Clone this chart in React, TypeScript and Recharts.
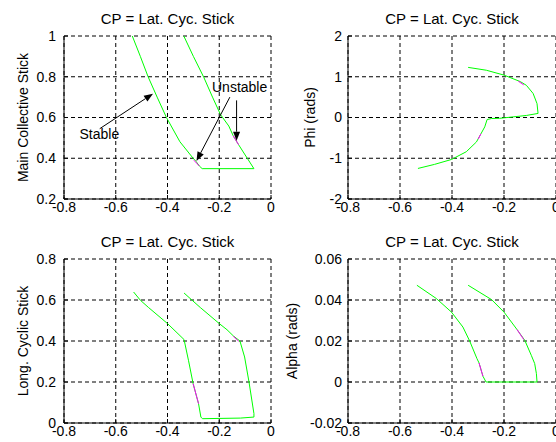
import React from "react";
import {
  LineChart,
  Line,
  XAxis,
  YAxis,
  CartesianGrid,
  ReferenceLine,
  ReferenceDot,
} from "recharts";

type Pt = { x: number; y: number };

const FONT = "'Liberation Sans', Arial, Helvetica, sans-serif";
const TITLE = "CP = Lat. Cyc. Stick";
const xTicks = [-0.8, -0.6, -0.4, -0.2, 0];

// Main collective stick vs lat. cyclic
const collTicks = [0.2, 0.4, 0.6, 0.8, 1];
const collPath: Pt[] = [
  { x: -0.536, y: 1.0 },
  { x: -0.505, y: 0.9 },
  { x: -0.475, y: 0.8 },
  { x: -0.44, y: 0.7 },
  { x: -0.404, y: 0.6 },
  { x: -0.352, y: 0.481 },
  { x: -0.301, y: 0.4 },
  { x: -0.29, y: 0.385 },
  { x: -0.277, y: 0.362 },
  { x: -0.266, y: 0.349 },
  { x: -0.066, y: 0.349 },
  { x: -0.125, y: 0.466 },
  { x: -0.146, y: 0.51 },
  { x: -0.163, y: 0.558 },
  { x: -0.195, y: 0.614 },
  { x: -0.226, y: 0.7 },
  { x: -0.26, y: 0.798 },
  { x: -0.3, y: 0.9 },
  { x: -0.337, y: 1.0 },
];
const collUnstableA: Pt[] = [
  { x: -0.298, y: 0.39 },
  { x: -0.277, y: 0.362 },
];
const collUnstableB: Pt[] = [
  { x: -0.146, y: 0.51 },
  { x: -0.125, y: 0.466 },
];
const stableArrow: Pt[] = [
  { x: -0.662, y: 0.545 },
  { x: -0.456, y: 0.717 },
];
const unstableArrowA: Pt[] = [
  { x: -0.159, y: 0.7 },
  { x: -0.288, y: 0.387 },
];
const unstableArrowB: Pt[] = [
  { x: -0.133, y: 0.684 },
  { x: -0.133, y: 0.486 },
];
const stableText: Pt = { x: -0.74, y: 0.496 };
const unstableText: Pt = { x: -0.228, y: 0.723 };

// Phi
const phiTicks = [-2, -1, 0, 1, 2];
const phiPath: Pt[] = [
  { x: -0.531, y: -1.25 },
  { x: -0.467, y: -1.15 },
  { x: -0.402, y: -1.03 },
  { x: -0.345, y: -0.84 },
  { x: -0.306, y: -0.6 },
  { x: -0.293, y: -0.45 },
  { x: -0.274, y: -0.23 },
  { x: -0.265, y: -0.05 },
  { x: -0.248, y: -0.025 },
  { x: -0.217, y: -0.02 },
  { x: -0.165, y: 0.015 },
  { x: -0.114, y: 0.05 },
  { x: -0.069, y: 0.1 },
  { x: -0.073, y: 0.34 },
  { x: -0.088, y: 0.59 },
  { x: -0.114, y: 0.79 },
  { x: -0.137, y: 0.88 },
  { x: -0.2, y: 1.04 },
  { x: -0.268, y: 1.16 },
  { x: -0.338, y: 1.23 },
];
const phiUnstableA: Pt[] = [
  { x: -0.299, y: -0.53 },
  { x: -0.289, y: -0.4 },
];
const phiUnstableB: Pt[] = [
  { x: -0.145, y: 0.89 },
  { x: -0.124, y: 0.8 },
];

// Long. cyclic stick
const longTicks = [0, 0.2, 0.4, 0.6, 0.8];
const longPath: Pt[] = [
  { x: -0.531, y: 0.639 },
  { x: -0.505, y: 0.599 },
  { x: -0.473, y: 0.563 },
  { x: -0.4, y: 0.485 },
  { x: -0.336, y: 0.407 },
  { x: -0.319, y: 0.306 },
  { x: -0.301, y: 0.192 },
  { x: -0.28, y: 0.094 },
  { x: -0.271, y: 0.029 },
  { x: -0.265, y: 0.021 },
  { x: -0.118, y: 0.024 },
  { x: -0.066, y: 0.029 },
  { x: -0.066, y: 0.046 },
  { x: -0.085, y: 0.2 },
  { x: -0.102, y: 0.322 },
  { x: -0.12, y: 0.4 },
  { x: -0.144, y: 0.423 },
  { x: -0.17, y: 0.455 },
  { x: -0.2, y: 0.485 },
  { x: -0.273, y: 0.563 },
  { x: -0.305, y: 0.599 },
  { x: -0.336, y: 0.634 },
];
const longUnstableA: Pt[] = [
  { x: -0.301, y: 0.192 },
  { x: -0.28, y: 0.094 },
];
const longUnstableB: Pt[] = [
  { x: -0.146, y: 0.423 },
  { x: -0.125, y: 0.399 },
];

// Alpha
const alphaTicks = [-0.02, 0, 0.02, 0.04, 0.06];
const alphaPath: Pt[] = [
  { x: -0.535, y: 0.0472 },
  { x: -0.46, y: 0.0407 },
  { x: -0.402, y: 0.0341 },
  { x: -0.358, y: 0.0268 },
  { x: -0.332, y: 0.02 },
  { x: -0.304, y: 0.0114 },
  { x: -0.296, y: 0.0093 },
  { x: -0.281, y: 0.0028 },
  { x: -0.269, y: 0 },
  { x: -0.073, y: 0 },
  { x: -0.0754, y: 0.0041 },
  { x: -0.082, y: 0.009 },
  { x: -0.095, y: 0.013 },
  { x: -0.12, y: 0.0203 },
  { x: -0.15, y: 0.0256 },
  { x: -0.2, y: 0.0341 },
  { x: -0.248, y: 0.0402 },
  { x: -0.338, y: 0.0472 },
];
const alphaUnstableA: Pt[] = [
  { x: -0.296, y: 0.0093 },
  { x: -0.281, y: 0.0028 },
];
const alphaUnstableB: Pt[] = [
  { x: -0.15, y: 0.0256 },
  { x: -0.124, y: 0.0207 },
];

const fmt = (v: number) => String(parseFloat(v.toFixed(2)));

const Arrow = (props: any) => {
  const { x1, y1, x2, y2 } = props;
  const dx = x2 - x1;
  const dy = y2 - y1;
  const len = Math.hypot(dx, dy) || 1;
  const ux = dx / len;
  const uy = dy / len;
  const hl = 9;
  const hw = 3.5;
  const bx = x2 - ux * hl;
  const by = y2 - uy * hl;
  return (
    <g>
      <line x1={x1} y1={y1} x2={bx} y2={by} stroke="#000" strokeWidth={1} />
      <polygon
        points={`${x2},${y2} ${bx - uy * hw},${by + ux * hw} ${bx + uy * hw},${by - ux * hw}`}
        fill="#000"
      />
    </g>
  );
};

const note = (text: string) => (p: any) => (
  <text x={p.cx} y={p.cy} fontSize={14} fontFamily={FONT} fill="#000">
    {text}
  </text>
);

interface PanelProps {
  left: number;
  top: number;
  width: number;
  plotTop: number;
  xAxisH: number;
  yW: number;
  rightM: number;
  yDomain: [number, number];
  yTicks: number[];
  yLabel: string;
  yLabelX: number;
  yTickMargin: number;
  path: Pt[];
  unstable: Pt[][];
  children?: React.ReactNode;
}

function Panel(p: PanelProps) {
  const height = 221;
  const plotBottom = height - p.xAxisH;
  const cx = (p.yW + p.width - p.rightM) / 2;
  const cy = (p.plotTop + plotBottom) / 2;
  const tick = { fill: "#000", fontSize: 14, fontFamily: FONT };
  return (
    <div style={{ position: "absolute", left: p.left, top: p.top, width: p.width, height }}>
      <LineChart
        width={p.width}
        height={height}
        margin={{ top: p.plotTop, right: p.rightM, bottom: 0, left: 0 }}
      >
        <CartesianGrid stroke="#000" strokeDasharray="4 3" />
        <XAxis
          type="number"
          dataKey="x"
          domain={[-0.8, 0]}
          ticks={xTicks}
          interval={0}
          allowDataOverflow
          height={p.xAxisH}
          tickSize={-4}
          tickMargin={7}
          tick={tick}
          tickLine={{ stroke: "#000" }}
          axisLine={{ stroke: "#000" }}
          tickFormatter={fmt}
        />
        <YAxis
          type="number"
          dataKey="y"
          domain={p.yDomain}
          ticks={p.yTicks}
          interval={0}
          allowDataOverflow
          width={p.yW}
          tickSize={-4}
          tickMargin={p.yTickMargin}
          tick={tick}
          tickLine={{ stroke: "#000" }}
          axisLine={{ stroke: "#000" }}
          tickFormatter={fmt}
        />
        <Line
          data={p.path}
          dataKey="y"
          type="linear"
          stroke="#00ff00"
          strokeWidth={1}
          dot={false}
          isAnimationActive={false}
        />
        {p.unstable.map((seg, i) => (
          <Line
            key={i}
            data={seg}
            dataKey="y"
            type="linear"
            stroke="#ff00ff"
            strokeWidth={1}
            dot={false}
            isAnimationActive={false}
          />
        ))}
        {p.children}
        <text
          x={cx}
          y={p.plotTop - 12}
          textAnchor="middle"
          fontSize={15}
          fontFamily={FONT}
          fill="#000"
        >
          {TITLE}
        </text>
        <text
          x={p.yLabelX}
          y={cy}
          transform={`rotate(-90 ${p.yLabelX} ${cy})`}
          textAnchor="middle"
          fontSize={14}
          fontFamily={FONT}
          fill="#000"
        >
          {p.yLabel}
        </text>
      </LineChart>
    </div>
  );
}

export default function App() {
  return (
    <div
      style={{
        position: "absolute",
        left: 0,
        top: 0,
        width: 556,
        height: 442,
        overflow: "hidden",
        background: "#fff",
      }}
    >
      <Panel
        left={0}
        top={0}
        width={280}
        plotTop={36}
        xAxisH={22}
        yW={64}
        rightM={9}
        yDomain={[0.2, 1]}
        yTicks={collTicks}
        yLabel="Main Collective Stick"
        yLabelX={27.5}
        yTickMargin={12}
        path={collPath}
        unstable={[collUnstableA, collUnstableB]}
      >
        <ReferenceLine segment={stableArrow} shape={Arrow} ifOverflow="visible" />
        <ReferenceLine segment={unstableArrowA} shape={Arrow} ifOverflow="visible" />
        <ReferenceLine segment={unstableArrowB} shape={Arrow} ifOverflow="visible" />
        <ReferenceDot x={stableText.x} y={stableText.y} r={1} shape={note("Stable")} ifOverflow="visible" />
        <ReferenceDot x={unstableText.x} y={unstableText.y} r={1} shape={note("Unstable")} ifOverflow="visible" />
      </Panel>
      <Panel
        left={276}
        top={0}
        width={290}
        plotTop={36}
        xAxisH={22}
        yW={72}
        rightM={10}
        yDomain={[-2, 2]}
        yTicks={phiTicks}
        yLabel="Phi (rads)"
        yLabelX={39}
        yTickMargin={10}
        path={phiPath}
        unstable={[phiUnstableA, phiUnstableB]}
      />
      <Panel
        left={0}
        top={221}
        width={280}
        plotTop={38}
        xAxisH={19}
        yW={64}
        rightM={9}
        yDomain={[0, 0.8]}
        yTicks={longTicks}
        yLabel="Long. Cyclic Stick"
        yLabelX={27.5}
        yTickMargin={12}
        path={longPath}
        unstable={[longUnstableA, longUnstableB]}
      />
      <Panel
        left={276}
        top={221}
        width={290}
        plotTop={38}
        xAxisH={19}
        yW={72}
        rightM={10}
        yDomain={[-0.02, 0.06]}
        yTicks={alphaTicks}
        yLabel="Alpha (rads)"
        yLabelX={21}
        yTickMargin={10}
        path={alphaPath}
        unstable={[alphaUnstableA, alphaUnstableB]}
      />
    </div>
  );
}
